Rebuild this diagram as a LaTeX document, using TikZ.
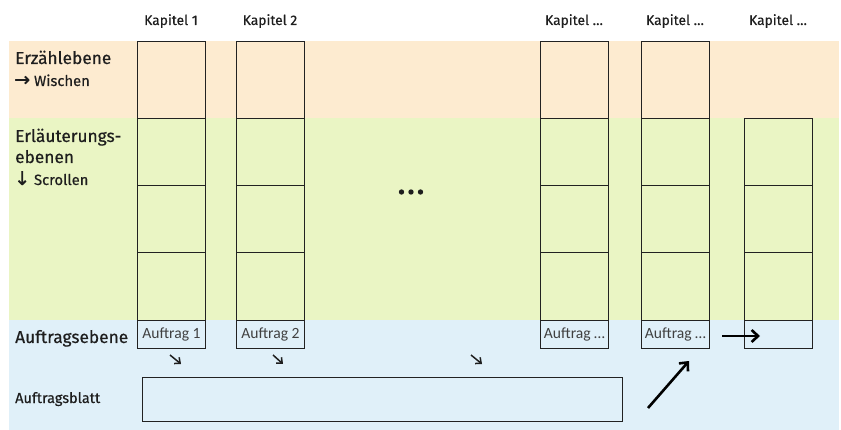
\documentclass[tikz,border=0pt]{standalone}
\usepackage{fontspec}
\setmainfont{Fira Sans}[FakeBold=0.5]
\newfontfamily\boxfont{Carlito}
\newfontfamily\arrowfont{DejaVu Sans}[FakeBold=1]
\usetikzlibrary{arrows.meta, positioning}
\definecolor{bandStory}{HTML}{FDEBD0}
\definecolor{bandExplain}{HTML}{EAF5C4}
\definecolor{bandTask}{HTML}{E0F0F9}
\definecolor{lineDark}{HTML}{222222}
\definecolor{textDark}{HTML}{1E1E1E}
\newcommand\hintsize{\fontsize{14.8}{16}\selectfont}
\newcommand\hintarrow[1]{{\arrowfont\fontsize{19}{16}\selectfont #1}\ }
\tikzset{
    band/.style={rectangle, draw=none, inner sep=0pt, minimum width=830pt, anchor=north west},
    cell/.style={rectangle, draw=lineDark, line width=0.9pt, inner sep=0pt, minimum width=68pt, anchor=north west},
    taskcell/.style={cell, minimum height=28pt, font=\boxfont\fontsize{15.6}{16}\selectfont, text=textDark!85},
    chapter/.style={font=\fontsize{13.8}{15}\selectfont, text=textDark, inner sep=0pt, anchor=base},
    levelname/.style={font=\fontsize{17.3}{21}\selectfont, text=textDark, inner sep=0pt, align=left, anchor=base west},
    smallarrow/.style={-{Straight Barb[length=4.5pt, width=8pt]}, line width=1.5pt, draw=textDark},
    bigarrow/.style={-{Straight Barb[length=6.5pt, width=12pt]}, line width=2.6pt, draw=black},
}

\begin{document}
\begin{tikzpicture}[x=1pt, y=-1pt]
    \useasboundingbox (0,0) rectangle (841,430);
    % Ebenen
    \node[band, fill=bandStory, minimum height=77pt] (story) at (9,41) {};
    \node[band, fill=bandExplain, minimum height=202pt] (explain) at (9,118) {};
    \node[band, fill=bandTask, minimum height=110pt] (task) at (9,320) {};

    % Kapitel
    \foreach \i/\x/\title/\auftrag in {1/137/Kapitel 1/Auftrag 1, 2/236/Kapitel 2/Auftrag 2,
        3/540/Kapitel \ldots/Auftrag \ldots, 4/641/Kapitel \ldots/Auftrag \ldots} {
        \node[chapter] (kap\i) at (\x+34,25) {\title};
        \node[cell, minimum height=77pt] (story\i) at (\x,41) {};
        \node[cell, minimum height=67.5pt] (explA\i) at (\x,118) {};
        \node[cell, minimum height=67pt] (explB\i) at (\x,185.5) {};
        \node[cell, minimum height=67.5pt] (explC\i) at (\x,252.5) {};
        \node[taskcell] (task\i) at (\x,320) {\auftrag};
    }
    \node[chapter] (kap5) at (778,25) {Kapitel \ldots};
    \node[cell, minimum height=67.5pt] (explA5) at (744,118) {};
    \node[cell, minimum height=67pt] (explB5) at (744,185.5) {};
    \node[cell, minimum height=67.5pt] (explC5) at (744,252.5) {};
    \node[taskcell] (task5) at (744,320) {};

    % Beschriftung links
    \node[levelname] (storyname) at (15,64) {Erzählebene};
    \node[levelname, font=\hintsize] (storyhint) at (14,86) {\hintarrow{→}Wischen};
    \node[levelname] (explainname) at (15,163) {Erläuterungs-\\ebenen};
    \node[levelname, font=\hintsize] (explainhint) at (14,185) {\hintarrow{↓}Scrollen};
    \node[levelname] (taskname) at (15,343) {Auftragsebene};
    \node[levelname, font=\fontsize{14.5}{16}\selectfont] (sheetname) at (15,403) {Auftragsblatt};

    % Auftragsblatt
    \node[cell, minimum width=480pt, minimum height=44pt, line width=0.7pt] (sheet) at (142,377) {};

    % weitere Kapitel
    \foreach \d in {-9.5,0,9.5} \fill[textDark] (411+\d,192) circle (2.7pt);

    % Pfeile
    \coordinate (s1) at (170,355);  \coordinate (e1) at (181,364);
    \coordinate (s2) at (273,355);  \coordinate (e2) at (283,364);
    \coordinate (s3) at (471,355);  \coordinate (e3) at (482,364);
    \draw[smallarrow] (s1) -- (e1);
    \draw[smallarrow] (s2) -- (e2);
    \draw[smallarrow] (s3) -- (e3);
    \coordinate (up0) at (648,408);
    \coordinate (up1) at (689,361);
    \draw[bigarrow] (up0) -- (up1);
    \coordinate (next0) at (722,336);
    \coordinate (next1) at (760,336);
    \draw[bigarrow] (next0) -- (next1);
\end{tikzpicture}
\end{document}
